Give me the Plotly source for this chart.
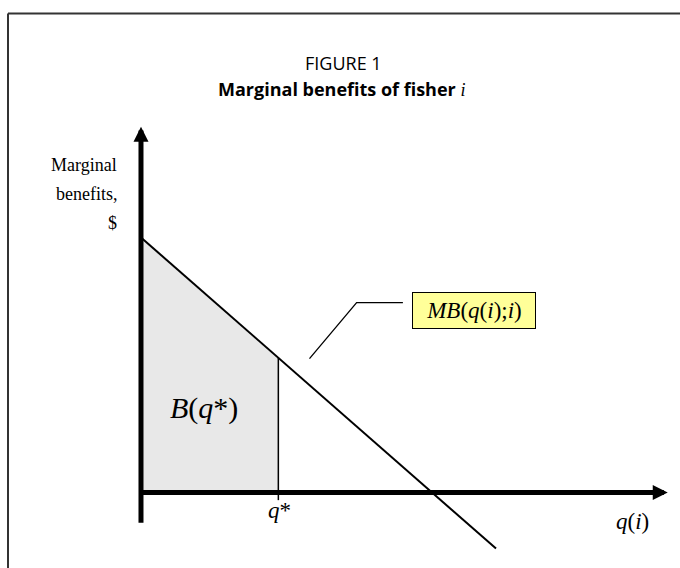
import plotly.graph_objects as go

# Marginal benefit curve MB(q(i); i), quantity on x, dollars on y
mb_q = [0.0, 12.2]
mb_val = [10.0, -2.2]

# optimal quantity and the shaded benefit area B(q*)
q_star = 4.72
area_q = [0.0, 4.72, 4.72, 0.0, 0.0]
area_mb = [10.0, 5.28, 0.0, 0.0, 10.0]

# leader line from the curve to its label box
leader_q = [5.79, 7.41, 9.0]
leader_mb = [5.25, 7.45, 7.45]

SERIF = "Liberation Serif"
SANS = "Open Sans"

fig = go.Figure()

fig.add_trace(go.Scatter(
    x=area_q, y=area_mb, mode="lines", fill="toself",
    fillcolor="#e8e8e8", line=dict(color="#a8a8a8", width=1),
    hoverinfo="skip", showlegend=False,
))

# vertical line at q*
fig.add_trace(go.Scatter(
    x=[q_star, q_star], y=[area_mb[1], -0.3], mode="lines",
    line=dict(color="black", width=1.5), hoverinfo="skip", showlegend=False,
))

fig.add_trace(go.Scatter(
    x=mb_q, y=mb_val, mode="lines",
    line=dict(color="black", width=2), hoverinfo="skip", showlegend=False,
))

fig.add_trace(go.Scatter(
    x=leader_q, y=leader_mb, mode="lines",
    line=dict(color="black", width=1.3), hoverinfo="skip", showlegend=False,
))

# axes with arrow heads
axis_arrows = [
    dict(x=0, y=14.345, ax=0, ay=-1.25),   # vertical axis
    dict(x=18.10, y=0, ax=0, ay=0),        # horizontal axis
]
for a in axis_arrows:
    fig.add_annotation(
        x=a["x"], y=a["y"], ax=a["ax"], ay=a["ay"],
        xref="x", yref="y", axref="x", ayref="y",
        text="", showarrow=True, arrowhead=2, arrowwidth=5,
        arrowsize=0.6, arrowcolor="black",
    )

labels = [
    dict(x=-0.75, y=12.84, text="Marginal", size=18, xanchor="right"),
    dict(x=-0.75, y=11.7, text="benefits,", size=18, xanchor="right"),
    dict(x=-0.75, y=10.55, text="$", size=18, xanchor="right"),
    dict(x=2.15, y=3.3, text="<i>B</i>(<i>q</i>*)", size=30, xanchor="center"),
    dict(x=4.75, y=-0.7, text="<i>q</i>*", size=23, xanchor="center"),
    dict(x=16.9, y=-1.15, text="<i>q</i>(<i>i</i>)", size=23, xanchor="center"),
]
for lb in labels:
    fig.add_annotation(
        x=lb["x"], y=lb["y"], xref="x", yref="y", text=lb["text"],
        showarrow=False, xanchor=lb["xanchor"], yanchor="middle",
        font=dict(family=SERIF, size=lb["size"], color="black"),
    )

fig.add_annotation(
    x=11.43, y=7.14, xref="x", yref="y",
    text="<i>MB</i>(<i>q</i>(<i>i</i>);<i>i</i>)",
    showarrow=False, bgcolor="#ffff99", bordercolor="black", borderwidth=1,
    width=122, height=35, borderpad=0,
    font=dict(family=SERIF, size=23, color="black"),
)

# titles
fig.add_annotation(
    x=343 / 680, y=1 - 63 / 568, xref="paper", yref="paper", text="FIGURE 1",
    showarrow=False, yanchor="middle",
    font=dict(family=SANS, size=18, color="black"),
)
fig.add_annotation(
    x=341 / 680, y=1 - 89 / 568, xref="paper", yref="paper",
    text="<b>Marginal benefits of fisher</b> "
         "<span style='font-family:Liberation Serif'><i>i</i></span>",
    showarrow=False, yanchor="middle",
    font=dict(family=SANS, size=18, color="black"),
)

# border frame (top and left)
fig.add_shape(type="line", xref="paper", yref="paper",
              x0=8 / 680, x1=1, y0=1 - 13.5 / 568, y1=1 - 13.5 / 568,
              line=dict(color="#333333", width=2))
fig.add_shape(type="line", xref="paper", yref="paper",
              x0=8 / 680, x1=8 / 680, y0=0, y1=1 - 13.5 / 568,
              line=dict(color="#333333", width=2))

fig.update_layout(
    width=680, height=568,
    margin=dict(l=0, r=0, t=0, b=0),
    paper_bgcolor="white", plot_bgcolor="white",
    xaxis=dict(range=[-4.845, 18.522], visible=False, fixedrange=True),
    yaxis=dict(range=[-2.961, 19.314], visible=False, fixedrange=True),
    showlegend=False,
)

fig.write_html("out.html", config={"displayModeBar": False},
               post_script="document.body.style.margin='0';")
